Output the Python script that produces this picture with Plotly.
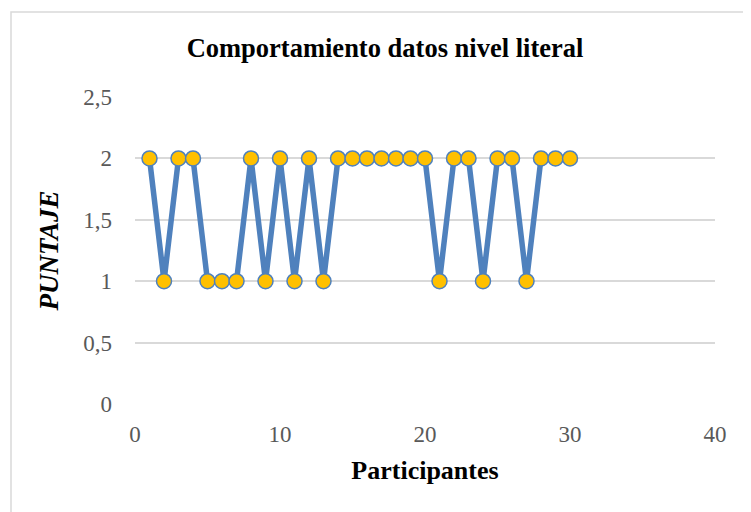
import plotly.graph_objects as go

participantes = list(range(1, 31))
puntaje = [2, 1, 2, 2, 1, 1, 1, 2, 1, 2, 1, 2, 1, 2, 2, 2, 2, 2, 2, 2,
           1, 2, 2, 1, 2, 2, 1, 2, 2, 2]

title_text = "Comportamiento datos nivel literal"
x_title = "Participantes"
y_title = "<i>PUNTAJE</i>"

fig = go.Figure()
fig.add_trace(go.Scatter(
    x=participantes, y=puntaje, mode="lines+markers",
    line=dict(color="#4F81BD", width=5.5),
    marker=dict(size=15, color="#FFC000", line=dict(color="#4F81BD", width=1.5)),
    showlegend=False,
))

# page body has an 8px default margin; offsets compensate
OFF = 8
W, H = 751, 512
L, T = 135 - OFF, 97 - OFF
pw, ph = 580, 307
R = W - L - pw
B = H - T - ph

def px_x(p):
    return (p - OFF - L) / pw

def px_y(p):
    return (H - B - (p - OFF)) / ph

tickfont = dict(family="Liberation Serif", size=23, color="#595959")

fig.update_layout(
    width=W, height=H,
    margin=dict(l=L, r=R, t=T, b=B, autoexpand=False),
    paper_bgcolor="white", plot_bgcolor="white",
    separators=",.",
    title=dict(text="<b>" + title_text + "</b>", x=(385 - OFF) / W, xanchor="center",
               y=1 - (48 - OFF) / H, yanchor="middle",
               font=dict(family="Liberation Serif", size=26.5, color="black")),
    xaxis=dict(range=[0, 40], dtick=10, showgrid=False, zeroline=False, showline=False,
               ticks="", ticklabelstandoff=14, tickfont=tickfont, automargin=False,
               title=dict(text="<b>" + x_title + "</b>", standoff=14,
                          font=dict(family="Liberation Serif", size=26, color="black"))),
    yaxis=dict(range=[0, 2.5], dtick=0.5, showgrid=True, gridcolor="#D9D9D9", gridwidth=1.5,
               zeroline=False, showline=False, ticks="", ticklabelstandoff=22,
               tickfont=tickfont, automargin=False,
               title=dict(text="<b>" + y_title + "</b>", standoff=16,
                          font=dict(family="Liberation Serif", size=27, color="black"))),
    shapes=[dict(type="rect", xref="paper", yref="paper",
                 x0=px_x(11), x1=px_x(790), y0=px_y(560), y1=px_y(12),
                 line=dict(color="#D9D9D9", width=1.5), fillcolor="rgba(0,0,0,0)", layer="below")],
)

fig.write_html("out.html")
